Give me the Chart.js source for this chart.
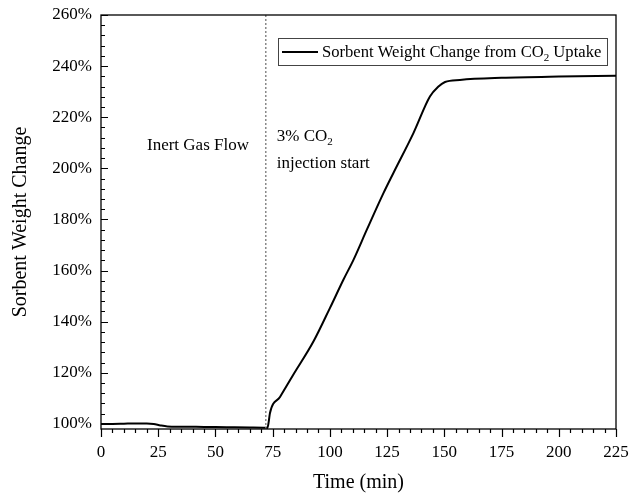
<!DOCTYPE html>
<html lang="en">
<head>
    <meta charset="UTF-8">
    <title>Sorbent Weight Change</title>
    <script src="https://cdn.jsdelivr.net/npm/chart.js"></script>
    <style>
        body { margin: 0; background: #fff; }
    </style>
</head>
<body>
    <canvas id="chart" width="635" height="498"></canvas>

    <script>
        // data
        const timeMin = [0, 5, 10, 15, 20, 23, 26, 29, 35, 45, 55, 65, 72, 72.7, 73.3, 73.8, 78.2, 84, 92.8, 100,
            105.9, 110.3, 116.1, 123.4, 127.7, 136.5, 143.7, 147.3, 150.3, 156.8, 175, 200, 225];
        const weightPct = [100.0, 100.0, 100.1, 100.2, 100.2, 100.0, 99.4, 99.0, 98.9, 98.8, 98.7, 98.6, 98.5, 98.4, 101, 104.2, 110.5, 119.2, 132.2, 145.3,
            156.4, 164.2, 175.9, 190.3, 198.1, 213.8, 228.1, 231.9, 233.8, 234.6, 235.4, 235.9, 236.2];
        const xTicks = [0, 25, 50, 75, 100, 125, 150, 175, 200, 225];
        const yTicks = [100, 120, 140, 160, 180, 200, 220, 240, 260];
        const injectionTime = 72;
        const seriesLabel = 'Sorbent Weight Change from CO';

        const FONT = '"Liberation Serif", "Times New Roman", serif';

        // draws frame, inward/outward ticks, dotted marker, legend and text notes
        const decorations = {
            id: 'decorations',
            afterDatasetsDraw(chart) {
                const ctx = chart.ctx;
                const a = chart.chartArea;
                const xs = chart.scales.x, ys = chart.scales.y;
                ctx.save();

                // dotted injection line
                const xi = xs.getPixelForValue(injectionTime);
                ctx.strokeStyle = '#777';
                ctx.lineWidth = 1.3;
                ctx.setLineDash([2, 2]);
                ctx.beginPath();
                ctx.moveTo(xi, a.top);
                ctx.lineTo(xi, a.bottom);
                ctx.stroke();
                ctx.setLineDash([]);

                // frame
                ctx.strokeStyle = '#000';
                ctx.lineWidth = 1.3;
                ctx.strokeRect(a.left, a.top, a.right - a.left, a.bottom - a.top);

                // x ticks (outward)
                ctx.lineWidth = 1.2;
                ctx.beginPath();
                for (let v = xs.min; v <= xs.max + 0.01; v += 5) {
                    const px = Math.round(xs.getPixelForValue(v)) + 0.5;
                    const len = v % 25 === 0 ? 8 : 4;
                    ctx.moveTo(px, a.bottom);
                    ctx.lineTo(px, a.bottom + len);
                }
                // y ticks (inward)
                for (let v = 100; v <= 260.01; v += 4) {
                    const py = Math.round(ys.getPixelForValue(v)) + 0.5;
                    const len = v % 20 === 0 ? 7 : 4;
                    ctx.moveTo(a.left, py);
                    ctx.lineTo(a.left + len, py);
                }
                ctx.stroke();

                // legend box
                const bx = a.left + 177, by = a.top + 23, bw = 329, bh = 27;
                ctx.strokeStyle = '#444';
                ctx.lineWidth = 1;
                ctx.strokeRect(bx + 0.5, by + 0.5, bw, bh);
                ctx.strokeStyle = '#000';
                ctx.lineWidth = 2;
                ctx.beginPath();
                ctx.moveTo(bx + 4, by + 14);
                ctx.lineTo(bx + 40, by + 14);
                ctx.stroke();

                ctx.fillStyle = '#000';
                ctx.textBaseline = 'alphabetic';
                ctx.textAlign = 'left';
                const drawSub = (x, y, size, main, sub, rest) => {
                    ctx.font = size + 'px ' + FONT;
                    ctx.fillText(main, x, y);
                    let w = ctx.measureText(main).width;
                    ctx.font = '11px ' + FONT;
                    ctx.fillText(sub, x + w, y + 4);
                    w += ctx.measureText(sub).width;
                    if (rest) {
                        ctx.font = size + 'px ' + FONT;
                        ctx.fillText(rest, x + w, y);
                    }
                };
                drawSub(bx + 44, by + 19, 16.6, seriesLabel, '2', ' Uptake');

                // notes
                ctx.font = '17px ' + FONT;
                ctx.fillText('Inert Gas Flow', a.left + 46, a.top + 135);
                drawSub(xi + 11, a.top + 126, 17, '3% CO', '2', '');
                ctx.font = '17px ' + FONT;
                ctx.fillText('injection start', xi + 11, a.top + 153);

                ctx.restore();
            }
        };

        new Chart(document.getElementById('chart'), {
            type: 'line',
            data: {
                datasets: [{
                    label: seriesLabel + '2 Uptake',
                    data: timeMin.map((t, i) => ({ x: t, y: weightPct[i] })),
                    borderColor: '#000',
                    borderWidth: 2,
                    pointRadius: 0,
                    fill: false,
                    cubicInterpolationMode: 'monotone'
                }]
            },
            options: {
                responsive: false,
                animation: false,
                layout: { padding: { top: 15, right: 19, left: 0, bottom: 0 } },
                plugins: {
                    legend: { display: false },
                    tooltip: { enabled: false }
                },
                scales: {
                    x: {
                        type: 'linear',
                        min: 0,
                        max: 225,
                        afterBuildTicks: s => { s.ticks = xTicks.map(v => ({ value: v })); },
                        afterFit: s => { s.height = 69; s.paddingLeft = 0; s.paddingRight = 0; },
                        grid: { display: false, drawTicks: false },
                        border: { display: false },
                        ticks: {
                            padding: 13,
                            color: '#000',
                            font: { family: FONT, size: 17 },
                            maxRotation: 0
                        },
                        title: {
                            display: true,
                            text: 'Time (min)',
                            color: '#000',
                            font: { family: FONT, size: 20 },
                            padding: { top: 0, bottom: 3 }
                        }
                    },
                    y: {
                        type: 'linear',
                        min: 98,
                        max: 260,
                        afterBuildTicks: s => { s.ticks = yTicks.map(v => ({ value: v })); },
                        afterFit: s => { s.width = 101; s.paddingTop = 0; s.paddingBottom = 0; },
                        grid: { display: false, drawTicks: false },
                        border: { display: false },
                        ticks: {
                            padding: 9,
                            color: '#000',
                            font: { family: FONT, size: 17 },
                            callback: v => v + '%'
                        },
                        title: {
                            display: true,
                            text: 'Sorbent Weight Change',
                            color: '#000',
                            font: { family: FONT, size: 20 },
                            padding: { top: 9, bottom: 0 }
                        }
                    }
                }
            },
            plugins: [decorations]
        });
    </script>
</body>
</html>
